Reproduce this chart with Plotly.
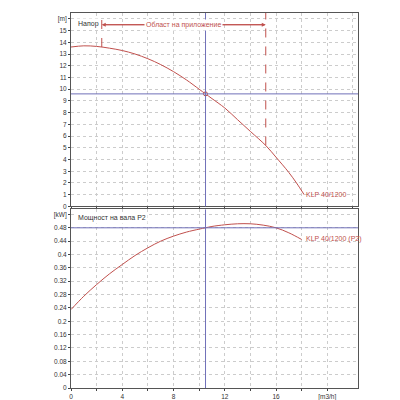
import plotly.graph_objects as go
from plotly.subplots import make_subplots

q_head = [0, 1, 2, 3, 4, 5, 6, 7, 8, 9, 10, 10.5, 11, 12, 13, 14, 15.2, 16, 17, 17.6, 18.2]
head = [13.6, 13.7, 13.65, 13.5, 13.3, 13.0, 12.6, 12.1, 11.5, 10.8, 10.0, 9.6, 9.2, 8.4, 7.4, 6.4, 5.2, 4.2, 2.9, 2.0, 1.0]
q_pow = [0, 1, 2, 3, 4, 5, 6, 7, 8, 9, 10, 10.5, 11, 12, 13, 14, 15, 16, 17, 18]
power = [0.235, 0.275, 0.31, 0.342, 0.37, 0.397, 0.42, 0.44, 0.455, 0.467, 0.476, 0.48, 0.484, 0.489, 0.492, 0.492, 0.488, 0.48, 0.465, 0.445]
op_q, op_h, op_p = 10.5, 9.6, 0.48
range_q = [2.4, 15.2]
range_h = [13.6, 5.2]

RED = "#c0504d"
BLUE = "#7070b8"
fig = make_subplots(rows=2, cols=1, shared_xaxes=False, vertical_spacing=0.008,
                    row_heights=[0.52, 0.48])
fig.add_scatter(x=q_head, y=head, mode="lines", line=dict(color=RED, width=1, shape="spline"), row=1, col=1)
fig.add_scatter(x=q_pow, y=power, mode="lines", line=dict(color=RED, width=1, shape="spline"), row=2, col=1)
for q, h in zip(range_q, range_h):
    fig.add_scatter(x=[q, q], y=[h, 16.5], mode="lines", line=dict(color=RED, width=1, dash="dash"), row=1, col=1)
fig.add_annotation(x=range_q[0], y=15.5, ax=range_q[1], ay=15.5, xref="x", yref="y", axref="x", ayref="y",
                   showarrow=True, arrowhead=2, arrowsize=0.8, arrowwidth=1, arrowcolor=RED, text="")
fig.add_annotation(x=range_q[1], y=15.5, ax=range_q[0], ay=15.5, xref="x", yref="y", axref="x", ayref="y",
                   showarrow=True, arrowhead=2, arrowsize=0.8, arrowwidth=1, arrowcolor=RED, text="")
fig.add_annotation(x=8.8, y=15.5, xref="x", yref="y", text="Област на приложение", showarrow=False,
                   bgcolor="white", font=dict(color=RED, size=7))
fig.add_annotation(x=0.4, y=15.6, xref="x", yref="y", text="Напор", showarrow=False, xanchor="left",
                   bgcolor="white", font=dict(size=7))
fig.add_annotation(x=0.4, y=0.51, xref="x2", yref="y2", text="Мощност на вала P2", showarrow=False,
                   xanchor="left", bgcolor="white", font=dict(size=7))
fig.add_annotation(x=18.2, y=1.0, xref="x", yref="y", text="KLP 40/1200", showarrow=False,
                   xanchor="left", font=dict(color=RED, size=7))
fig.add_annotation(x=18.2, y=0.445, xref="x2", yref="y2", text="KLP 40/1200 (P2)", showarrow=False,
                   xanchor="left", font=dict(color=RED, size=7))
for r in (1, 2):
    fig.add_vline(x=op_q, line=dict(color=BLUE, width=1), row=r, col=1)
fig.add_hline(y=op_h, line=dict(color=BLUE, width=1), row=1, col=1)
fig.add_hline(y=op_p, line=dict(color=BLUE, width=1), row=2, col=1)
fig.add_scatter(x=[op_q], y=[op_h], mode="markers", marker=dict(size=4, color="white", line=dict(color=RED, width=1)), row=1, col=1)

ax = dict(showline=True, mirror=True, linecolor="#555", linewidth=1, gridcolor="#ccc",
          griddash="dot", zeroline=False, ticks="outside", ticklen=2, tickfont=dict(size=6.5))
fig.update_xaxes(range=[0, 22.4], dtick=2, showticklabels=False, **ax, row=1, col=1)
fig.update_xaxes(range=[0, 22.4], tickvals=[0, 2, 4, 6, 8, 10, 12, 14, 16, 18, 20],
                 ticktext=["0", "", "4", "", "8", "", "12", "", "16", "", "[m3/h]"], **ax, row=2, col=1)
fig.update_yaxes(range=[0, 16.5], tickvals=list(range(17)),
                 ticktext=[str(i) for i in range(16)] + ["[m]"], **ax, row=1, col=1)
pv = [round(0.04 * i, 2) for i in range(14)]
fig.update_yaxes(range=[0, 0.535], tickvals=pv,
                 ticktext=[f"{v:g}" for v in pv[:-1]] + ["[kW]"], **ax, row=2, col=1)
fig.update_layout(width=400, height=400, showlegend=False, plot_bgcolor="white", paper_bgcolor="white",
                  margin=dict(l=63, r=50, t=5, b=20), font=dict(family="Liberation Sans", size=7, color="#333"))
fig.write_html("out.html")
